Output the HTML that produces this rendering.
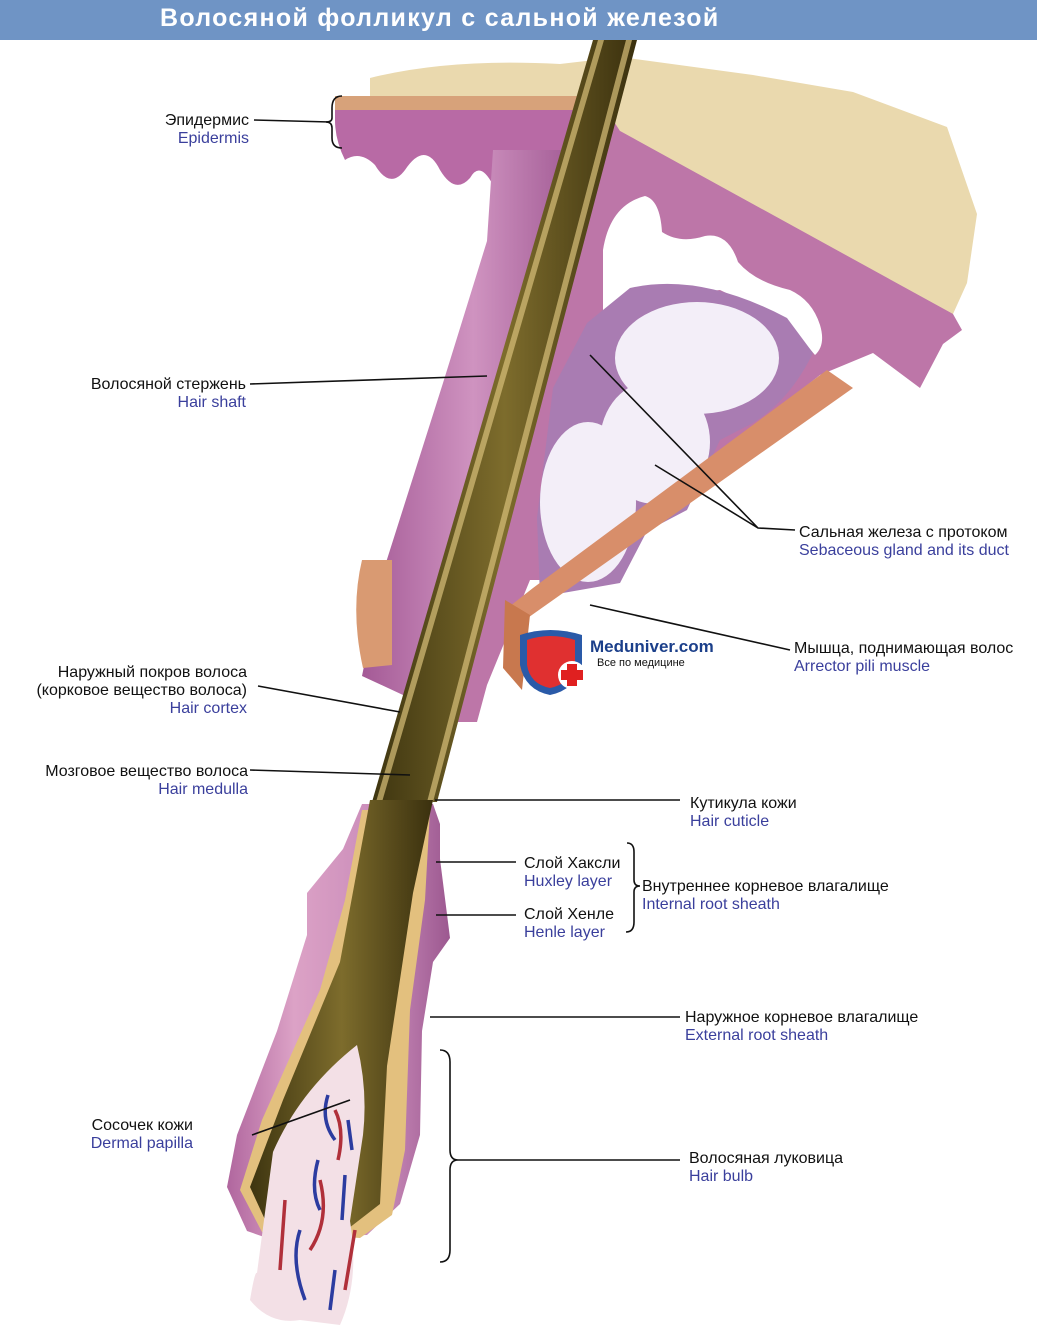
<!DOCTYPE html>
<html><head><meta charset="utf-8">
<style>
html,body{margin:0;padding:0;background:#fff;}
body{width:1037px;height:1339px;position:relative;overflow:hidden;font-family:"Liberation Sans","DejaVu Sans",sans-serif;}
.hdr{position:absolute;left:0;top:0;width:1037px;height:40px;background:#6f94c5;}
.hdr span{position:absolute;left:160px;top:4px;color:#fff;font-weight:bold;font-size:25px;letter-spacing:1.3px;}
.l{position:absolute;font-size:16px;line-height:18px;color:#111;white-space:nowrap;}
.l b{display:block;font-weight:normal;color:#3a3f9c;}
.r{text-align:right;}
</style></head><body>
<div class="hdr"><span>Волосяной фолликул с сальной железой</span></div>
<svg width="1037" height="1339" style="position:absolute;left:0;top:0">
<defs>
<linearGradient id="pk" x1="0" x2="1"><stop offset="0" stop-color="#a45a96"/><stop offset="0.5" stop-color="#cf93c0"/><stop offset="1" stop-color="#9d5590"/></linearGradient>
<linearGradient id="sh" x1="0" x2="1"><stop offset="0" stop-color="#3e3510"/><stop offset="0.5" stop-color="#7d6c2c"/><stop offset="1" stop-color="#3a300e"/></linearGradient>
<linearGradient id="bl" x1="0" x2="1"><stop offset="0" stop-color="#b0669e"/><stop offset="0.3" stop-color="#dca2c6"/><stop offset="0.7" stop-color="#c98bb9"/><stop offset="1" stop-color="#9c5890"/></linearGradient>
</defs>
<path d="M370,78 Q450,58 560,64 L620,57 L753,75 L853,92 L947,127 L977,214 L967,283 L953,314 L620,131 L600,110 L600,96 L370,96 Z" fill="#ead9ae"/>
<path d="M620,131 L953,314 L950,324 L615,140 Z" fill="#c99a86"/>
<path d="M335,96 L600,96 L600,150 L520,150 L493,185 Q480,160 470,178 Q455,195 440,170 Q425,140 405,170 Q390,190 375,165 Q360,150 345,160 Q335,140 335,120 Z" fill="#b86aa5"/>
<path d="M335,96 L600,96 L600,110 L335,110 Z" fill="#d7a27a"/>
<path d="M493,150 L585,150 L420,700 L403,695 L362,676 L383,572 L443,383 L487,241 Z" fill="url(#pk)"/>
<path d="M362,560 Q350,610 363,668 L392,665 L392,560 Z" fill="#d99a72"/>
<path d="M600,100 L620,131 L953,314 L962,330 L943,344 L920,388 L873,353 L820,375 L560,580 L530,580 L487,685 L477,722 L455,722 Z" fill="#bd76a8"/>
<path d="M603,312 L603,250 Q610,205 645,196 Q660,200 662,232 Q680,244 705,236 Q728,232 738,262 Q755,282 790,290 Q812,300 820,325 Q826,345 815,355 L787,322 L720,290 L637,298 Z" fill="#fff"/>
<path d="M630,288 Q700,272 787,318 L813,353 Q790,400 753,423 L720,440 L687,510 L647,531 L620,583 L540,597 L537,518 L553,388 L587,323 Z" fill="#a97cb2"/>
<ellipse cx="697" cy="358" rx="82" ry="56" fill="#f3eef8"/>
<ellipse cx="655" cy="442" rx="55" ry="62" fill="#f3eef8"/>
<ellipse cx="588" cy="502" rx="48" ry="80" fill="#f3eef8"/>
<path d="M827,370 L853,388 L522,622 L505,610 L533,588 Z" fill="#d88e6a"/>
<path d="M505,600 L530,615 L522,690 L503,668 Z" fill="#c8784e"/>
<path d="M593,40 L637,40 L437,802 L372,802 Z" fill="url(#sh)"/>
<path d="M598,40 L604,40 L382,802 L376,802 Z" fill="#d8c07a" opacity="0.7"/>
<path d="M626,40 L632,40 L433,802 L427,802 Z" fill="#d8c07a" opacity="0.7"/>
<path d="M362,804 L433,804 L440,824 L440,859 L450,938 L433,962 L422,1031 L420,1135 L400,1204 L367,1235 L267,1238 L247,1231 L227,1187 L237,1135 L277,1031 L307,935 L307,893 L343,849 Z" fill="url(#bl)"/>
<path d="M362,810 L430,810 L425,900 L410,1010 L405,1150 L392,1215 L360,1238 L262,1232 L240,1190 L262,1120 L320,990 L345,900 Z" fill="#e3c07e"/>
<path d="M370,800 L433,800 L413,893 L387,1066 L380,1204 L340,1235 L267,1224 L250,1187 L283,1100 L340,962 Z" fill="url(#sh)"/>
<path d="M357,1045 Q368,1090 363,1135 L350,1221 Q360,1280 340,1325 L300,1320 Q270,1325 250,1300 Q255,1270 257,1273 L273,1152 Q300,1090 357,1045 Z" fill="#f3e0e6"/>
<g fill="none" stroke-width="3.5">
<path d="M328,1095 Q320,1120 335,1140 M318,1160 Q310,1190 320,1210 M345,1175 L342,1220 M300,1230 Q290,1260 305,1300 M335,1270 L330,1310 M348,1120 L352,1150" stroke="#2c3ca0"/>
<path d="M335,1110 Q345,1130 338,1160 M320,1180 Q330,1220 310,1250 M355,1230 L345,1290 M285,1200 L280,1270" stroke="#b0303a"/>
</g>
<path d="M520,635 Q550,625 582,635 L582,665 Q575,690 550,695 Q525,690 520,665 Z" fill="#2a5aa8"/>
<path d="M527,640 Q550,632 575,640 L575,665 Q570,684 550,688 Q530,684 527,665 Z" fill="#e03030"/>
<circle cx="572" cy="675" r="14" fill="#fff"/>
<path d="M567,664 h10 v6 h6 v10 h-6 v6 h-10 v-6 h-6 v-10 h6 z" fill="#e02020"/>
<g stroke="#111" stroke-width="1.6" fill="none">
<path d="M254,120 L330,122"/>
<path d="M342,96 Q332,96 332,108 L332,118 Q332,122 326,122 Q332,122 332,128 L332,138 Q332,148 342,148"/>
<path d="M250,384 L487,376"/>
<path d="M590,355 L758,528 M655,465 L758,528 L795,530"/>
<path d="M590,605 L790,650"/>
<path d="M258,686 L400,712"/>
<path d="M250,770 L410,775"/>
<path d="M435,800 L680,800"/>
<path d="M436,862 L516,862"/>
<path d="M436,915 L516,915"/>
<path d="M627,843 Q634,843 634,852 L634,880 Q634,886 640,886 Q634,886 634,892 L634,922 Q634,932 626,932"/>
<path d="M430,1017 L680,1017"/>
<path d="M252,1135 L350,1100"/>
<path d="M440,1050 Q450,1050 450,1062 L450,1150 Q450,1160 458,1160 Q450,1160 450,1170 L450,1250 Q450,1262 440,1262"/>
<path d="M458,1160 L680,1160"/>
</g>
</svg>
<div class="l r" style="right:788px;top:112px">Эпидермис<b>Epidermis</b></div>
<div class="l r" style="right:791px;top:376px">Волосяной стержень<b>Hair shaft</b></div>
<div class="l r" style="right:790px;top:664px">Наружный покров волоса<br>(корковое вещество волоса)<b>Hair cortex</b></div>
<div class="l r" style="right:789px;top:763px">Мозговое вещество волоса<b>Hair medulla</b></div>
<div class="l r" style="right:844px;top:1117px">Сосочек кожи<b>Dermal papilla</b></div>
<div class="l" style="left:799px;top:524px">Сальная железа с протоком<b>Sebaceous gland and its duct</b></div>
<div class="l" style="left:794px;top:640px">Мышца, поднимающая волос<b>Arrector pili muscle</b></div>
<div class="l" style="left:690px;top:795px">Кутикула кожи<b>Hair cuticle</b></div>
<div class="l" style="left:524px;top:855px">Слой Хаксли<b>Huxley layer</b></div>
<div class="l" style="left:524px;top:906px">Слой Хенле<b>Henle layer</b></div>
<div class="l" style="left:642px;top:878px">Внутреннее корневое влагалище<b>Internal root sheath</b></div>
<div class="l" style="left:685px;top:1009px">Наружное корневое влагалище<b>External root sheath</b></div>
<div class="l" style="left:689px;top:1150px">Волосяная луковица<b>Hair bulb</b></div>
<div style="position:absolute;left:590px;top:637px;font-weight:bold;font-size:17px;color:#1b3f8a">Meduniver.com</div>
<div style="position:absolute;left:597px;top:657px;font-size:11px;color:#111">Все по медицине</div>
</body></html>
